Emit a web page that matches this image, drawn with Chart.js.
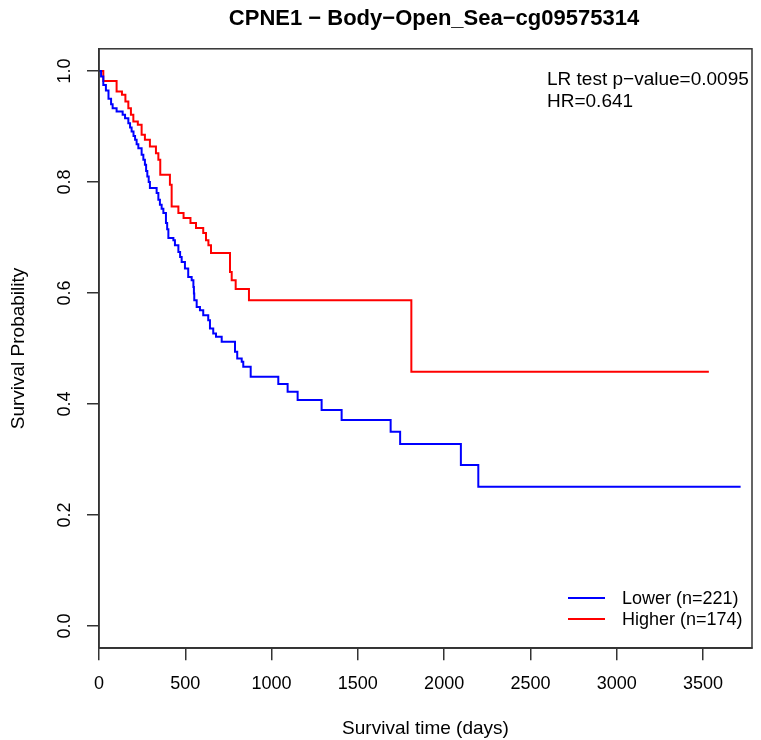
<!DOCTYPE html>
<html>
<head>
<meta charset="utf-8">
<script src="https://cdn.jsdelivr.net/npm/chart.js@4.4.1/dist/chart.umd.min.js"></script>
<style>
  html, body { margin: 0; padding: 0; background: #ffffff; }
  canvas { display: block; }
</style>
</head>
<body>
<canvas id="km" width="761" height="740"></canvas>
<script>
// ---- Data (Kaplan-Meier steps) ----
const chartTitle = "CPNE1 \u2212 Body\u2212Open_Sea\u2212cg09575314";
const xAxisTitle = "Survival time (days)";
const yAxisTitle = "Survival Probability";
const annotationLines = ["LR test p\u2212value=0.0095", "HR=0.641"];
const seriesLabels = ["Lower (n=221)", "Higher (n=174)"];
const seriesColors = ["#0000ff", "#ff0000"];

const lowerTimes = [0, 12, 25, 40, 55, 70, 79, 102, 137, 151, 170, 180, 189, 200, 209, 218, 228, 247, 257, 266, 273, 280, 288, 295, 334, 344, 353, 363, 373, 388, 395, 402, 431, 440, 460, 470, 479, 498, 517, 537, 547, 550, 552, 566, 585, 604, 633, 643, 662, 678, 711, 788, 801, 827, 836, 879, 1039, 1093, 1151, 1290, 1406, 1690, 1745, 2097, 2198, 3718];
const lowerSurv  = [1.0, 0.99, 0.975, 0.965, 0.95, 0.94, 0.933, 0.927, 0.921, 0.915, 0.906, 0.898, 0.891, 0.883, 0.876, 0.868, 0.861, 0.849, 0.84, 0.831, 0.82, 0.81, 0.80, 0.789, 0.78, 0.768, 0.759, 0.752, 0.744, 0.726, 0.715, 0.699, 0.695, 0.686, 0.674, 0.665, 0.656, 0.644, 0.629, 0.623, 0.611, 0.599, 0.587, 0.575, 0.569, 0.56, 0.551, 0.536, 0.527, 0.521, 0.512, 0.494, 0.482, 0.476, 0.467, 0.449, 0.436, 0.422, 0.407, 0.389, 0.371, 0.35, 0.328, 0.29, 0.251, 0.251];

const higherTimes = [0, 25, 102, 133, 153, 170, 185, 199, 225, 247, 266, 295, 330, 344, 355, 411, 421, 460, 490, 530, 562, 604, 620, 634, 649, 759, 769, 792, 869, 1810, 3534];
const higherSurv  = [1.0, 0.982, 0.963, 0.957, 0.945, 0.933, 0.921, 0.909, 0.903, 0.885, 0.876, 0.864, 0.852, 0.84, 0.813, 0.795, 0.756, 0.744, 0.735, 0.726, 0.717, 0.708, 0.695, 0.686, 0.672, 0.638, 0.623, 0.607, 0.587, 0.458, 0.458];

const xTickValues = [0, 500, 1000, 1500, 2000, 2500, 3000, 3500];
const yTickValues = [0.0, 0.2, 0.4, 0.6, 0.8, 1.0];
const xMin = 0, xMax = 3784;
const yMin = -0.04, yMax = 1.04;

// ---- Build datasets ----
function toPoints(ts, ss) { return ts.map((t, i) => ({ x: t, y: ss[i] })); }

const FONT = "'Liberation Sans', Arial, Helvetica, sans-serif";
const AXIS_COLOR = "#333333";

const boxPlugin = {
  id: 'rbox',
  afterDraw(chart) {
    const { ctx, chartArea: a } = chart;
    ctx.save();
    // plot box
    ctx.strokeStyle = AXIS_COLOR;
    ctx.lineWidth = 1.5;
    ctx.strokeRect(a.left, a.top, a.right - a.left, a.bottom - a.top);
    // title
    ctx.fillStyle = "#000";
    ctx.font = "bold 22px " + FONT;
    ctx.textAlign = "center";
    ctx.textBaseline = "middle";
    ctx.fillText(chartTitle, 434, 19);
    // annotation text
    ctx.font = "19px " + FONT;
    ctx.textAlign = "left";
    ctx.fillText(annotationLines[0], 547, 80);
    ctx.fillText(annotationLines[1], 547, 102);
    // legend
    ctx.font = "18px " + FONT;
    const ly = [598, 619];
    chart.data.datasets.forEach((ds, i) => {
      ctx.strokeStyle = ds.borderColor;
      ctx.lineWidth = 2;
      ctx.beginPath();
      ctx.moveTo(568, ly[i]);
      ctx.lineTo(605, ly[i]);
      ctx.stroke();
      ctx.fillStyle = "#000";
      ctx.fillText(ds.label, 622, ly[i] + 1);
    });
    ctx.restore();
  }
};

new Chart(document.getElementById('km'), {
  type: 'line',
  data: {
    datasets: [
      { label: seriesLabels[0], data: toPoints(lowerTimes, lowerSurv), borderColor: seriesColors[0], backgroundColor: seriesColors[0], borderWidth: 2, stepped: true, pointRadius: 0, fill: false },
      { label: seriesLabels[1], data: toPoints(higherTimes, higherSurv), borderColor: seriesColors[1], backgroundColor: seriesColors[1], borderWidth: 2, stepped: true, pointRadius: 0, fill: false }
    ]
  },
  options: {
    responsive: false,
    animation: false,
    devicePixelRatio: 1,
    layout: { padding: { top: 48.8, right: 9, bottom: 0, left: 0 } },
    plugins: {
      legend: { display: false },
      tooltip: { enabled: false },
      title: { display: false }
    },
    scales: {
      x: {
        type: 'linear',
        min: xMin, max: xMax,
        afterBuildTicks(s) { s.ticks = xTickValues.map(v => ({ value: v })); },
        afterFit(s) { s.height = 91.8; s.paddingLeft = 0; s.paddingRight = 0; },
        ticks: { autoSkip: false, padding: 13, color: '#000', maxRotation: 0, font: { size: 18, family: FONT }, callback: v => String(v) },
        grid: { display: true, drawOnChartArea: false, drawTicks: true, tickLength: 12, color: AXIS_COLOR, lineWidth: 1.5 },
        border: { display: true, color: AXIS_COLOR, width: 1.5 },
        title: { display: true, text: xAxisTitle, color: '#000', font: { size: 19, family: FONT }, padding: { top: 0, bottom: 0 } }
      },
      y: {
        type: 'linear',
        min: yMin, max: yMax,
        afterBuildTicks(s) { s.ticks = yTickValues.map(v => ({ value: v })); },
        afterFit(s) { s.width = 99; s.paddingTop = 0; s.paddingBottom = 0; },
        ticks: { autoSkip: false, minRotation: 90, maxRotation: 90, crossAlign: 'center', padding: 9, color: '#000', font: { size: 18, family: FONT }, callback: v => Number(v).toFixed(1) },
        grid: { display: true, drawOnChartArea: false, drawTicks: true, tickLength: 12, color: AXIS_COLOR, lineWidth: 1.5 },
        border: { display: true, color: AXIS_COLOR, width: 1.5 },
        title: { display: true, text: yAxisTitle, color: '#000', font: { size: 19, family: FONT }, padding: { top: 7, bottom: 0 } }
      }
    }
  },
  plugins: [boxPlugin]
});
</script>
</body>
</html>
